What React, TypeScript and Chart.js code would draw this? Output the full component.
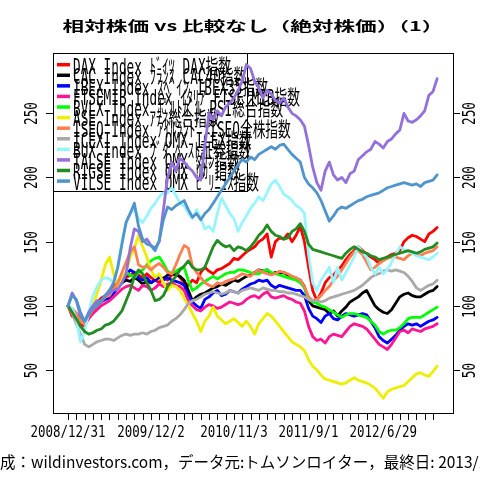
import React, { useEffect, useRef } from "react";
import { Chart, registerables } from "chart.js";

Chart.register(...registerables);

const titleText = "相対株価 vs 比較なし（絶対株価）（1）";
const captionText = "作成：wildinvestors.com，データ元:トムソンロイター，最終日: 2013/1/31";

const seriesNames = [
  "DAX Index ﾄﾞｲﾂ DAX指数",
  "CAC Index ﾌﾗﾝｽ CAC40指数",
  "IBEX Index ｽﾍﾟｲﾝ IBEX35指数",
  "FTSEMIB Index ｲﾀﾘｱ FTSE MIB指数",
  "BVLX Index ﾎﾟﾙﾄｶﾞﾙ PSI総合指数",
  "ASE Index ｱﾃﾈ総合指数",
  "ISEQ Index ｱｲﾙﾗﾝﾄﾞ ISEQ全株指数",
  "ICEXI Index OMX ICEX指数",
  "BUX Index ﾌﾞﾀﾞﾍﾟｽﾄ証券指数",
  "TALSE Index OMX ﾀﾘﾝ指数",
  "RIGSE Index OMX ﾘｶﾞ指数",
  "VILSE Index OMX ﾋﾞﾘﾆｭｽ指数",
];

const seriesColors = [
  "#FF0000", "#000000", "#0000FF", "#FF1493", "#00FF00", "#EEEE00",
  "#FF7F50", "#A9A9A9", "#98F5FF", "#9370DB", "#228B22", "#4F94CD",
];

// two observations per x-axis tick interval
const OBS_PER_TICK = 2;

const dax = [
  100, 92, 90, 86, 84, 92, 98, 102, 106, 108,
  112, 115, 118, 120, 122, 124, 126, 124, 122, 125,
  122, 120, 118, 122, 120, 124, 126, 122, 118, 116,
  120, 118, 126, 130, 127, 125, 128, 129, 131, 133,
  137, 136, 139, 142, 144, 146, 150, 152, 156, 138,
  150, 153, 152, 156, 150, 155, 162, 150, 130, 112,
  104, 110, 118, 122, 124, 128, 131, 136, 140, 143,
  146, 143, 140, 138, 136, 133, 136, 138, 140, 141,
  143, 150, 153, 155, 154, 152, 150, 156, 158, 161,
];
const cac = [
  100, 96, 93, 90, 88, 93, 97, 100, 103, 106,
  108, 112, 115, 118, 120, 119, 122, 120, 117, 119,
  118, 120, 122, 121, 124, 125, 124, 123, 120, 112,
  104, 107, 109, 110, 112, 114, 115, 117, 116, 118,
  120, 119, 121, 123, 124, 126, 128, 127, 128, 125,
  126, 125, 126, 124, 123, 121, 120, 115, 104, 100,
  99, 98, 97, 94, 96, 92, 96, 99, 103, 105,
  107, 110, 112, 106, 100, 97, 95, 94, 97, 102,
  107, 109, 110, 108, 107, 107, 109, 111, 112, 115,
];
const ibex = [
  100, 97, 94, 90, 86, 92, 96, 100, 103, 105,
  106, 110, 114, 118, 124, 128, 126, 122, 120, 122,
  118, 120, 123, 120, 122, 120, 119, 118, 116, 108,
  103, 100, 98, 105, 107, 110, 112, 108, 109, 112,
  111, 110, 113, 115, 117, 118, 120, 119, 120, 116,
  114, 116, 115, 114, 113, 112, 112, 108, 98, 92,
  90, 87, 92, 94, 90, 89, 92, 94, 93, 92,
  93, 94, 93, 88, 83, 76, 73, 71, 74, 77,
  81, 84, 86, 85, 86, 84, 86, 88, 89, 91,
];
const ftsemib = [
  100, 96, 92, 88, 85, 90, 94, 97, 100, 102,
  104, 107, 110, 113, 115, 116, 114, 112, 116, 115,
  112, 114, 117, 115, 117, 118, 116, 115, 112, 104,
  100, 97, 96, 99, 101, 100, 98, 99, 101, 103,
  102, 101, 102, 105, 107, 108, 106, 109, 111, 107,
  106, 107, 108, 106, 105, 103, 102, 96, 84, 76,
  73, 74, 71, 76, 78, 77, 76, 80, 84, 86,
  85, 84, 82, 78, 74, 70, 68, 66, 70, 75,
  80, 81, 79, 82, 81, 80, 82, 83, 84, 86,
];
const psi = [
  100, 97, 93, 90, 88, 94, 98, 101, 104, 107,
  109, 113, 117, 120, 126, 124, 122, 126, 128, 132,
  135, 137, 138, 133, 127, 125, 127, 129, 130, 120,
  112, 114, 117, 119, 121, 123, 121, 123, 125, 126,
  126, 128, 128, 127, 126, 125, 125, 127, 128, 126,
  125, 124, 123, 122, 121, 120, 118, 114, 105, 103,
  102, 100, 99, 97, 95, 93, 91, 93, 94, 94,
  93, 92, 91, 88, 85, 80, 78, 80, 81, 81,
  83, 86, 90, 91, 91, 91, 93, 95, 97, 99,
];
const ase = [
  100, 97, 92, 88, 86, 93, 100, 110, 120, 132,
  138, 125, 115, 122, 126, 138, 145, 155, 146, 138,
  128, 122, 125, 118, 112, 116, 115, 112, 106, 100,
  94, 88, 80, 88, 92, 99, 92, 89, 86, 88,
  90, 87, 84, 88, 84, 78, 86, 90, 94, 92,
  88, 84, 80, 76, 72, 70, 68, 65, 58, 53,
  50, 46, 43, 42, 41, 40, 39, 40, 42, 44,
  42, 41, 40, 38, 36, 32, 28, 33, 35, 36,
  37, 38, 41, 44, 47, 48, 46, 45, 49, 53,
];
const iseq = [
  100, 98, 94, 88, 86, 92, 97, 100, 103, 107,
  108, 113, 118, 126, 134, 142, 146, 132, 130, 131,
  128, 131, 133, 130, 126, 125, 132, 140, 147, 145,
  131, 126, 122, 118, 116, 115, 118, 117, 119, 120,
  121, 123, 125, 124, 123, 126, 128, 126, 125, 124,
  125, 127, 126, 125, 123, 122, 120, 115, 107, 104,
  105, 108, 112, 115, 120, 123, 128, 133, 138, 142,
  143, 140, 134, 128, 130, 133, 135, 137, 138, 138,
  137, 136, 139, 141, 140, 139, 141, 142, 143, 146,
];
const icex = [
  100, 94, 86, 78, 70, 68, 70, 72, 73, 74,
  74, 73, 75, 77, 78, 77, 78, 78, 79, 78,
  80, 81, 83, 84, 85, 88, 90, 93, 97, 102,
  104, 105, 107, 109, 110, 111, 110, 109, 110, 112,
  111, 110, 112, 113, 114, 113, 112, 114, 113, 112,
  112, 111, 111, 110, 110, 109, 108, 107, 105, 104,
  104, 103, 104, 106, 107, 108, 109, 110, 111, 112,
  114, 116, 119, 122, 124, 125, 127, 128, 127, 128,
  127, 126, 123, 119, 114, 112, 114, 116, 117, 120,
];
const bux = [
  100, 98, 90, 72, 80, 95, 108, 115, 120, 122,
  121, 118, 130, 150, 165, 172, 176, 168, 165, 170,
  176, 180, 185, 188, 188, 192, 186, 180, 178, 172,
  168, 175, 168, 160, 162, 158, 172, 184, 178, 172,
  168, 158, 165, 170, 176, 180, 185, 182, 188, 195,
  198, 193, 187, 185, 182, 178, 176, 172, 140, 118,
  112, 120, 125, 130, 118, 130, 120, 126, 132, 138,
  146, 142, 138, 130, 125, 130, 125, 128, 134, 140,
  146, 144, 142, 141, 139, 138, 137, 136, 138, 141,
];
const talse = [
  100, 110, 104, 92, 88, 95, 100, 104, 103, 108,
  110, 112, 113, 118, 125, 145, 160, 158, 150, 152,
  147, 145, 150, 175, 200, 212, 205, 215, 212, 208,
  205, 200, 198, 225, 250, 245, 252, 248, 255, 258,
  262, 268, 275, 288, 285, 275, 270, 262, 268, 265,
  260, 258, 262, 255, 250, 248, 245, 240, 225, 208,
  196, 190, 205, 212, 202, 198, 200, 196, 203, 205,
  214, 217, 220, 222, 228, 226, 223, 228, 230, 234,
  237, 250, 244, 243, 245, 248, 252, 264, 267, 277,
];
const rigse = [
  100, 95, 90, 84, 80, 78, 79, 81, 82, 85,
  86, 88, 92, 96, 104, 112, 123, 128, 125, 118,
  112, 104, 105, 108, 115, 119, 123, 128, 131, 135,
  130, 128, 128, 130, 138, 146, 151, 148, 146, 147,
  143, 146, 145, 143, 146, 150, 155, 158, 163, 158,
  155, 154, 152, 153, 158, 160, 164, 158, 148, 144,
  143, 142, 141, 140, 139, 138, 137, 141, 144, 146,
  144, 142, 141, 139, 138, 136, 137, 138, 139, 140,
  141, 142, 143, 142, 141, 142, 144, 145, 146, 149,
];
const vilse = [
  100, 108, 105, 95, 88, 93, 98, 100, 104, 108,
  112, 118, 130, 148, 165, 172, 180, 162, 152, 148,
  147, 143, 151, 167, 177, 175, 178, 180, 182, 175,
  169, 172, 167, 172, 175, 180, 185, 190, 195, 200,
  205, 210, 214, 212, 216, 214, 218, 220, 222, 224,
  222, 225, 226, 222, 218, 215, 212, 200, 195, 192,
  188, 182, 174, 166, 170, 175, 177, 176, 178, 180,
  182, 183, 185, 186, 187, 188, 190, 192, 193, 194,
  195, 196, 195, 194, 195, 193, 196, 197, 198, 202,
];

const seriesValues = [dax, cac, ibex, ftsemib, psi, ase, iseq, icex, bux, talse, rigse, vilse];

const yTicks = [50, 100, 150, 200, 250];
const xTickCount = 45;
const xLabelTicks = [0, 10, 20, 29, 38];
const xLabels = ["2008/12/31", "2009/12/2", "2010/11/3", "2011/9/1", "2012/6/29"];

const MONO = "'DejaVu Sans Mono', 'Noto Sans CJK JP', monospace";

function drawText(
  ctx: CanvasRenderingContext2D,
  text: string,
  x: number,
  y: number,
  font: string,
  sx: number,
  sy: number,
  rot: number,
  align: CanvasTextAlign,
  baseline: CanvasTextBaseline
) {
  ctx.save();
  ctx.translate(x, y);
  if (rot) ctx.rotate(rot);
  ctx.scale(sx, sy);
  ctx.font = font;
  ctx.textAlign = align;
  ctx.textBaseline = baseline;
  ctx.fillStyle = "#000";
  ctx.fillText(text, 0, 0);
  ctx.restore();
}

const decor = {
  id: "decor",
  beforeDraw(chart: any) {
    const ctx = chart.ctx;
    ctx.save();
    ctx.fillStyle = "#fff";
    ctx.fillRect(0, 0, chart.width, chart.height);
    ctx.restore();
  },
  beforeDatasetsDraw(chart: any) {
    const ctx: CanvasRenderingContext2D = chart.ctx;
    const a = chart.chartArea;
    const boxRight = 247;
    const boxBottom = 191;
    ctx.save();
    ctx.strokeStyle = "#000";
    ctx.lineWidth = 1;
    ctx.strokeRect(a.left + 0.5, a.top + 0.5, boxRight - a.left, boxBottom - a.top);
    const rowTop = 64.7;
    const rowGap = 10.58;
    seriesNames.forEach((name, i) => {
      const y = rowTop + i * rowGap;
      ctx.strokeStyle = seriesColors[i];
      ctx.lineWidth = 3.5;
      ctx.lineCap = "butt";
      ctx.beginPath();
      ctx.moveTo(57, y);
      ctx.lineTo(70, y);
      ctx.stroke();
      drawText(ctx, name, 73, y + 8.8, "20.5px " + MONO, 0.62, 1, 0, "left", "alphabetic");
    });
    ctx.restore();
  },
  afterDraw(chart: any) {
    const ctx: CanvasRenderingContext2D = chart.ctx;
    const a = chart.chartArea;
    const xs = chart.scales.x;
    const ys = chart.scales.y;
    ctx.save();
    ctx.strokeStyle = "#000";
    ctx.lineWidth = 1;
    ctx.strokeRect(a.left + 0.5, a.top + 0.5, a.right - a.left, a.bottom - a.top);

    // y ticks both sides
    yTicks.forEach((v) => {
      const py = Math.round(ys.getPixelForValue(v)) + 0.5;
      ctx.beginPath();
      ctx.moveTo(a.left - 7, py);
      ctx.lineTo(a.left, py);
      ctx.moveTo(a.right, py);
      ctx.lineTo(a.right + 7, py);
      ctx.stroke();
      drawText(ctx, String(v), 33, py, "17px " + MONO, 0.75, 1, -Math.PI / 2, "center", "middle");
      drawText(ctx, String(v), 471, py, "17px " + MONO, 0.75, 1, -Math.PI / 2, "center", "middle");
    });

    // x ticks
    for (let k = 0; k < xTickCount; k++) {
      const px = Math.round(xs.getPixelForValue(k)) + 0.5;
      ctx.beginPath();
      ctx.moveTo(px, a.bottom);
      ctx.lineTo(px, a.bottom + 7);
      ctx.stroke();
    }
    xLabelTicks.forEach((k, i) => {
      const px = xs.getPixelForValue(k);
      drawText(ctx, xLabels[i], px, 433, "15px " + MONO, 0.83, 1, 0, "center", "middle");
    });

    // title
    const tFont = "bold 15px 'Noto Sans CJK JP', sans-serif";
    ctx.font = tFont;
    const w = ctx.measureText(titleText).width;
    drawText(ctx, titleText, (a.left + a.right) / 2, 26, tFont, 381 / w, 0.88, 0, "center", "middle");

    // caption
    drawText(ctx, captionText, -15.5, 462, "15.5px 'Noto Sans CJK JP', sans-serif", 1, 1, 0, "left", "middle");
    ctx.restore();
  },
};

export default function App() {
  const ref = useRef<HTMLCanvasElement | null>(null);
  useEffect(() => {
    if (!ref.current) return;
    const n = seriesValues.length;
    const chart = new Chart(ref.current, {
      type: "line",
      data: {
        datasets: seriesValues.map((vals, i) => ({
          label: seriesNames[i],
          data: vals.map((v, k) => ({ x: k / OBS_PER_TICK, y: v })),
          borderColor: seriesColors[i],
          backgroundColor: seriesColors[i],
          borderWidth: 2.8,
          pointRadius: 0,
          tension: 0,
          fill: false,
          borderJoinStyle: "round" as const,
          borderCapStyle: "round" as const,
          order: n - i,
        })),
      },
      options: {
        animation: false,
        responsive: false,
        devicePixelRatio: 1,
        events: [],
        layout: { padding: { left: 53, top: 53, right: 27, bottom: 67 } },
        scales: {
          x: { type: "linear", min: -1.81, max: 46.41, display: false },
          y: { type: "linear", min: 16.5, max: 297, display: false },
        },
        plugins: {
          legend: { display: false },
          title: { display: false },
          tooltip: { enabled: false },
        },
      },
      plugins: [decor],
    });
    return () => chart.destroy();
  }, []);
  return (
    <div style={{ position: "fixed", left: 0, top: 0, width: 480, height: 480, background: "#fff" }}>
      <canvas ref={ref} width={480} height={480} style={{ display: "block", width: 480, height: 480 }} />
    </div>
  );
}
